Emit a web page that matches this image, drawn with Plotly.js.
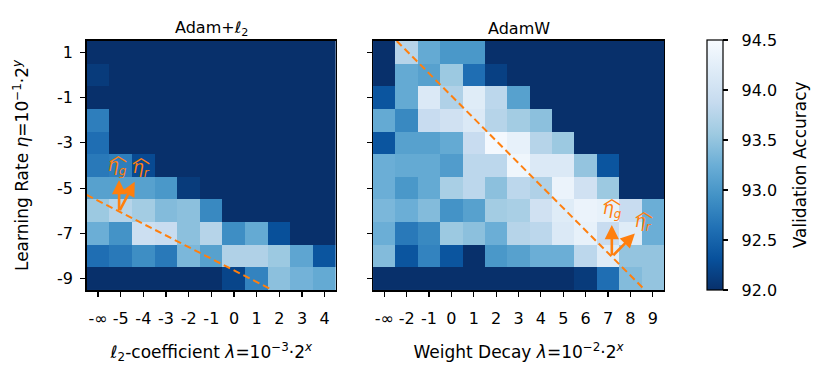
<!DOCTYPE html>
<html>
<head>
<meta charset="utf-8">
<script src="https://cdn.plot.ly/plotly-3.0.1.min.js"></script>
<style>
  html, body { margin: 0; padding: 0; background: #ffffff; }
  #chart { width: 831px; height: 376px; }
</style>
</head>
<body>
<div id="chart"></div>
<script>
// learning-rate exponents (rows, top to bottom)
const lrExp = [1, 0, -1, -2, -3, -4, -5, -6, -7, -8, -9];
const lrTickVals = [1, -1, -3, -5, -7, -9];

const l2Labels = ["-\u221e", "-5", "-4", "-3", "-2", "-1", "0", "1", "2", "3", "4"];
const wdLabels = ["-\u221e", "-2", "-1", "0", "1", "2", "3", "4", "5", "6", "7", "8", "9"];
const accTicks = [92.0, 92.5, 93.0, 93.5, 94.0, 94.5];

// validation accuracy, Adam + l2 (rows follow lrExp)
const adamL2Acc = [
  [92.0, 92.0, 92.0, 92.0, 92.0, 92.0, 92.0, 92.0, 92.0, 92.0, 92.0],
  [92.1, 92.0, 92.0, 92.0, 92.0, 92.0, 92.0, 92.0, 92.0, 92.0, 92.0],
  [92.0, 92.0, 92.0, 92.0, 92.0, 92.0, 92.0, 92.0, 92.0, 92.0, 92.0],
  [92.75, 92.0, 92.0, 92.0, 92.0, 92.0, 92.0, 92.0, 92.0, 92.0, 92.0],
  [92.6, 92.0, 92.0, 92.0, 92.0, 92.0, 92.0, 92.0, 92.0, 92.0, 92.0],
  [92.7, 92.75, 92.25, 92.0, 92.0, 92.0, 92.0, 92.0, 92.0, 92.0, 92.0],
  [93.1, 93.1, 93.1, 93.0, 92.1, 92.0, 92.0, 92.0, 92.0, 92.0, 92.0],
  [93.55, 93.75, 93.6, 93.4, 93.45, 92.85, 92.0, 92.0, 92.0, 92.0, 92.0],
  [93.25, 92.95, 93.95, 93.9, 93.45, 93.75, 92.9, 93.2, 92.3, 92.0, 92.0],
  [92.6, 92.7, 92.9, 92.7, 93.35, 93.1, 93.7, 93.7, 93.55, 93.15, 92.35],
  [92.0, 92.0, 92.0, 92.0, 92.0, 92.0, 92.2, 92.8, 93.45, 93.3, 93.2]
];

// validation accuracy, AdamW
const adamWAcc = [
  [92.0, 93.75, 93.2, 93.0, 93.0, 92.0, 92.0, 92.0, 92.0, 92.0, 92.0, 92.0, 92.0],
  [92.0, 93.2, 93.1, 93.55, 92.6, 92.15, 92.0, 92.0, 92.0, 92.0, 92.0, 92.0, 92.0],
  [92.35, 93.2, 94.15, 93.7, 94.2, 93.8, 93.1, 92.0, 92.0, 92.0, 92.0, 92.0, 92.0],
  [93.2, 92.85, 93.9, 94.0, 94.15, 93.75, 93.6, 93.45, 92.0, 92.0, 92.0, 92.0, 92.0],
  [92.35, 93.1, 93.1, 93.2, 93.9, 94.45, 94.3, 93.75, 93.55, 92.0, 92.0, 92.0, 92.0],
  [93.25, 93.2, 93.2, 93.05, 93.8, 93.8, 94.4, 94.15, 94.15, 93.5, 92.35, 92.0, 92.0],
  [93.25, 93.0, 93.2, 93.65, 93.8, 93.45, 93.8, 93.7, 94.35, 94.0, 93.55, 92.0, 92.0],
  [93.35, 93.25, 93.4, 92.95, 93.1, 93.6, 93.65, 94.0, 94.2, 94.35, 94.3, 93.9, 93.25],
  [93.25, 92.7, 92.85, 93.55, 93.45, 93.25, 93.75, 93.8, 94.15, 94.3, 93.9, 94.2, 93.25],
  [93.4, 92.35, 92.8, 92.35, 92.0, 93.0, 93.1, 93.25, 93.25, 93.8, 94.2, 93.5, 93.5],
  [92.0, 92.0, 92.0, 92.0, 92.0, 92.0, 92.0, 92.0, 92.0, 92.1, 92.6, 93.4, 93.5]
];

// guide lines (column index, lr exponent)
const adamL2GuideX = [-0.5, 7.7];
const adamL2GuideY = [-5.3, -9.5];
const adamWGuideX = [0.56, 11.65];
const adamWGuideY = [1.5, -9.5];

// arrow tails / heads
const adamL2Arrow = { x0: 0.93, y0: -6.04, gx: 0.93, gy: -4.64, rx: 1.62, ry: -4.72 };
const adamWArrow = { x0: 10.17, y0: -8.03, gx: 10.17, gy: -6.63, rx: 11.2, ry: -7.0 };

const ORANGE = "#ff7f0e";
const FONT = "DejaVu Sans, sans-serif";
const NBSP = "\u00a0";

// matplotlib Blues, reversed
const bluesR = [
  [0.0, "#08306b"], [0.125, "#08519c"], [0.25, "#2171b5"], [0.375, "#4292c6"],
  [0.5, "#6baed6"], [0.625, "#9ecae1"], [0.75, "#c6dbef"], [0.875, "#deebf7"],
  [1.0, "#f7fbff"]
];

function indices(labels) {
  return labels.map(function (_, i) { return i; });
}

const traces = [
  {
    type: "heatmap",
    x: indices(l2Labels),
    y: lrExp,
    z: adamL2Acc,
    xaxis: "x",
    yaxis: "y",
    colorscale: bluesR,
    zmin: 92.0,
    zmax: 94.5,
    showscale: false,
    hoverinfo: "skip"
  },
  {
    type: "heatmap",
    x: indices(wdLabels),
    y: lrExp,
    z: adamWAcc,
    xaxis: "x2",
    yaxis: "y2",
    colorscale: bluesR,
    zmin: 92.0,
    zmax: 94.5,
    showscale: true,
    colorbar: {
      x: 0.851,
      xanchor: "left",
      y: 0.2287,
      yanchor: "bottom",
      len: 0.664,
      lenmode: "fraction",
      thickness: 16,
      xpad: 0,
      ypad: 0,
      outlinewidth: 1.2,
      outlinecolor: "#000000",
      ticks: "outside",
      ticklen: 5,
      tickwidth: 1.2,
      tickcolor: "#000000",
      tickvals: accTicks,
      ticktext: accTicks.map(function (v) { return NBSP + NBSP + v.toFixed(1); }),
      tickfont: { family: FONT, size: 16, color: "#000000" }
    },
    hoverinfo: "skip"
  },
  {
    type: "scatter",
    mode: "lines",
    x: adamL2GuideX,
    y: adamL2GuideY,
    xaxis: "x",
    yaxis: "y",
    line: { color: ORANGE, width: 2, dash: "7px,4px" },
    hoverinfo: "skip",
    showlegend: false
  },
  {
    type: "scatter",
    mode: "lines",
    x: adamWGuideX,
    y: adamWGuideY,
    xaxis: "x2",
    yaxis: "y2",
    line: { color: ORANGE, width: 2, dash: "7px,4px" },
    hoverinfo: "skip",
    showlegend: false
  }
];

function axisBase() {
  return {
    showline: true,
    mirror: true,
    linecolor: "#000000",
    linewidth: 1.5,
    ticks: "outside",
    ticklen: 5,
    tickwidth: 1.2,
    tickcolor: "#000000",
    showgrid: false,
    zeroline: false,
    fixedrange: true,
    automargin: false,
    tickfont: { family: FONT, size: 16, color: "#000000" }
  };
}

function arrow(xref, yref, x0, y0, x1, y1) {
  return {
    xref: xref, yref: yref, axref: xref, ayref: yref,
    x: x1, y: y1, ax: x0, ay: y0,
    text: "", showarrow: true,
    arrowhead: 2, arrowsize: 1.1, arrowwidth: 2.6, arrowcolor: ORANGE
  };
}

function etaLabel(xref, yref, x, y, sub) {
  return [
    {
      xref: xref, yref: yref, x: x, y: y,
      text: "<i>\u03b7</i><sub><i>" + sub + "</i></sub>",
      showarrow: false,
      font: { family: FONT, size: 17, color: ORANGE }
    },
    {
      xref: xref, yref: yref, x: x, y: y + 0.6,
      text: "\ufe3f",
      showarrow: false,
      font: { family: "Noto Sans CJK SC", size: 18, color: ORANGE }
    }
  ];
}

const xA = Object.assign(axisBase(), {
  domain: [0.1043, 0.4043],
  range: [-0.5, l2Labels.length - 0.5],
  tickvals: indices(l2Labels),
  ticktext: l2Labels,
  ticklabelstandoff: 8,
  anchor: "y",
  title: {
    text: "<i>\u2113</i><sub>2</sub>-coefficient <i>\u03bb</i>=10<sup>\u22123</sup>\u00b72<sup><i>x</i></sup>",
    font: { family: FONT, size: 17, color: "#000000" },
    standoff: 19
  }
});
const yA = Object.assign(axisBase(), {
  domain: [0.2287, 0.891],
  range: [-9.5, 1.5],
  tickvals: lrTickVals,
  ticktext: lrTickVals.map(String),
  ticklabelstandoff: 4,
  anchor: "x",
  title: {
    text: "Learning Rate <i>\u03b7</i>=10<sup>\u22121</sup>\u00b72<sup><i>y</i></sup>",
    font: { family: FONT, size: 17, color: "#000000" },
    standoff: 24
  }
});
const xB = Object.assign(axisBase(), {
  domain: [0.4489, 0.799],
  range: [-0.5, wdLabels.length - 0.5],
  tickvals: indices(wdLabels),
  ticktext: wdLabels,
  ticklabelstandoff: 8,
  anchor: "y2",
  title: {
    text: "Weight Decay <i>\u03bb</i>=10<sup>\u22122</sup>\u00b72<sup><i>x</i></sup>",
    font: { family: FONT, size: 17, color: "#000000" },
    standoff: 19
  }
});
const yB = Object.assign(axisBase(), {
  domain: [0.2287, 0.891],
  range: [-9.5, 1.5],
  tickvals: lrTickVals,
  showticklabels: false,
  anchor: "x2"
});

const annotations = [
  {
    text: "Adam+<i>\u2113</i><sub>2</sub>",
    xref: "x domain", yref: "paper", x: 0.5, y: 0.925,
    xanchor: "center", yanchor: "middle", showarrow: false,
    font: { family: FONT, size: 16, color: "#000000" }
  },
  {
    text: "AdamW",
    xref: "x2 domain", yref: "paper", x: 0.5, y: 0.925,
    xanchor: "center", yanchor: "middle", showarrow: false,
    font: { family: FONT, size: 16, color: "#000000" }
  },
  {
    // colorbar label
    text: "Validation Accuracy",
    xref: "paper", yref: "paper", x: 0.963, y: 0.561,
    xanchor: "center", yanchor: "middle", textangle: -90, showarrow: false,
    font: { family: FONT, size: 17, color: "#000000" }
  },
  arrow("x", "y", adamL2Arrow.x0, adamL2Arrow.y0, adamL2Arrow.gx, adamL2Arrow.gy),
  arrow("x", "y", adamL2Arrow.x0, adamL2Arrow.y0, adamL2Arrow.rx, adamL2Arrow.ry),
  arrow("x2", "y2", adamWArrow.x0, adamWArrow.y0, adamWArrow.gx, adamWArrow.gy),
  arrow("x2", "y2", adamWArrow.x0, adamWArrow.y0, adamWArrow.rx, adamWArrow.ry)
]
  .concat(etaLabel("x", "y", 0.88, -4.05, "g"))
  .concat(etaLabel("x", "y", 1.9, -4.15, "r"))
  .concat(etaLabel("x2", "y2", 10.2, -5.95, "g"))
  .concat(etaLabel("x2", "y2", 11.6, -6.5, "r"));

const layout = {
  width: 831,
  height: 376,
  margin: { l: 0, r: 0, t: 0, b: 0 },
  paper_bgcolor: "#ffffff",
  plot_bgcolor: "#ffffff",
  font: { family: FONT, size: 16, color: "#000000" },
  showlegend: false,
  xaxis: xA,
  yaxis: yA,
  xaxis2: xB,
  yaxis2: yB,
  annotations: annotations
};

Plotly.newPlot("chart", traces, layout, { displayModeBar: false, staticPlot: true });
</script>
</body>
</html>
